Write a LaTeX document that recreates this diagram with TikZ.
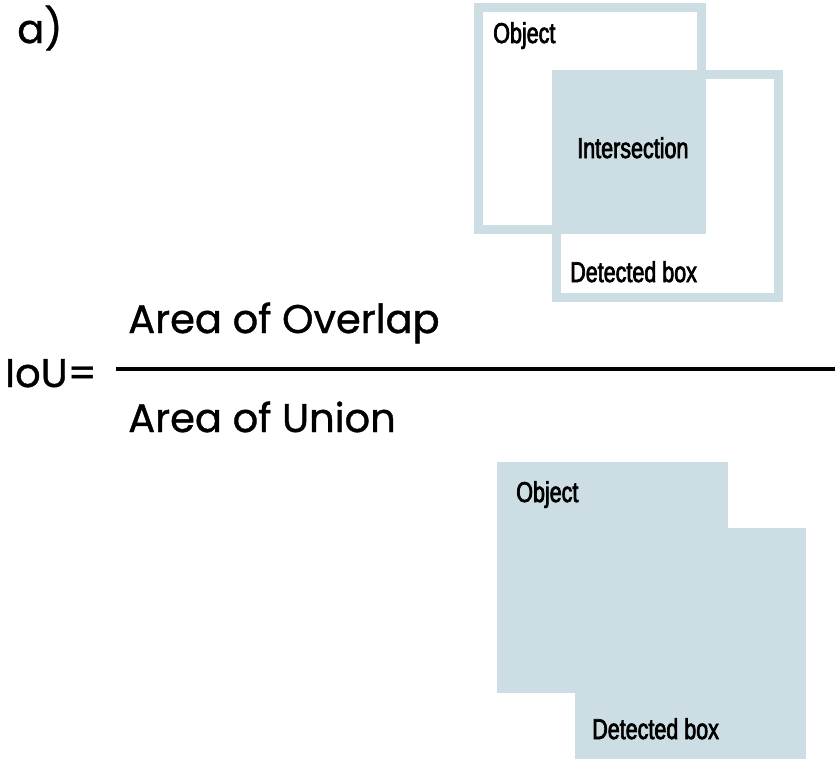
\documentclass[tikz,border=0pt]{standalone}
\usepackage{fontspec}
\setmainfont{Poppins}[FakeBold=1]
\newfontfamily\condfont[FakeStretch=0.75,FakeBold=2.5]{Liberation Sans}
\definecolor{boxblue}{RGB}{204,222,227}
\tikzset{
  lbl/.style={inner sep=0pt, anchor=base west, font=\condfont\fontsize{21.5}{25}\selectfont},
  big/.style={inner sep=0pt, anchor=base west, font=\fontsize{30}{36}\selectfont},
  frame/.style={draw=boxblue, line width=6.75pt},
  solid box/.style={fill=boxblue, draw=none}
}
\begin{document}
\begin{tikzpicture}[x=0.75pt,y=-0.75pt]
\useasboundingbox (0,0) rectangle (835,761);
% top: frames
\draw[frame] (478.5,7.5) rectangle (701.5,229.5);
\draw[frame] (556.5,74.5) rectangle (778.5,297.5);
\fill[boxblue] (552,70) rectangle (706,234);
\node[lbl] (obj1) at (493,43) {Object};
\node[lbl] (inter) at (577,158) {Intersection};
\node[lbl] (det1) at (570,282) {Detected box};
% label a)
\node[big] (lab) at (17,43) {a)};
% formula
\node[big] (iou) at (5,387) {IoU=};
\node[big] (num) at (128,333) {Area of Overlap};
\node[big] (den) at (128,432) {Area of Union};
\coordinate (barL) at (116,369);
\coordinate (barR) at (835,369);
\draw[line width=3.5pt] (barL) -- (barR);
% bottom: union
\fill[boxblue] (497,462) rectangle (728,693);
\fill[boxblue] (575,528) rectangle (806,759);
\node[lbl] (obj2) at (516,502) {Object};
\node[lbl] (det2) at (592,739) {Detected box};
\end{tikzpicture}
\end{document}
